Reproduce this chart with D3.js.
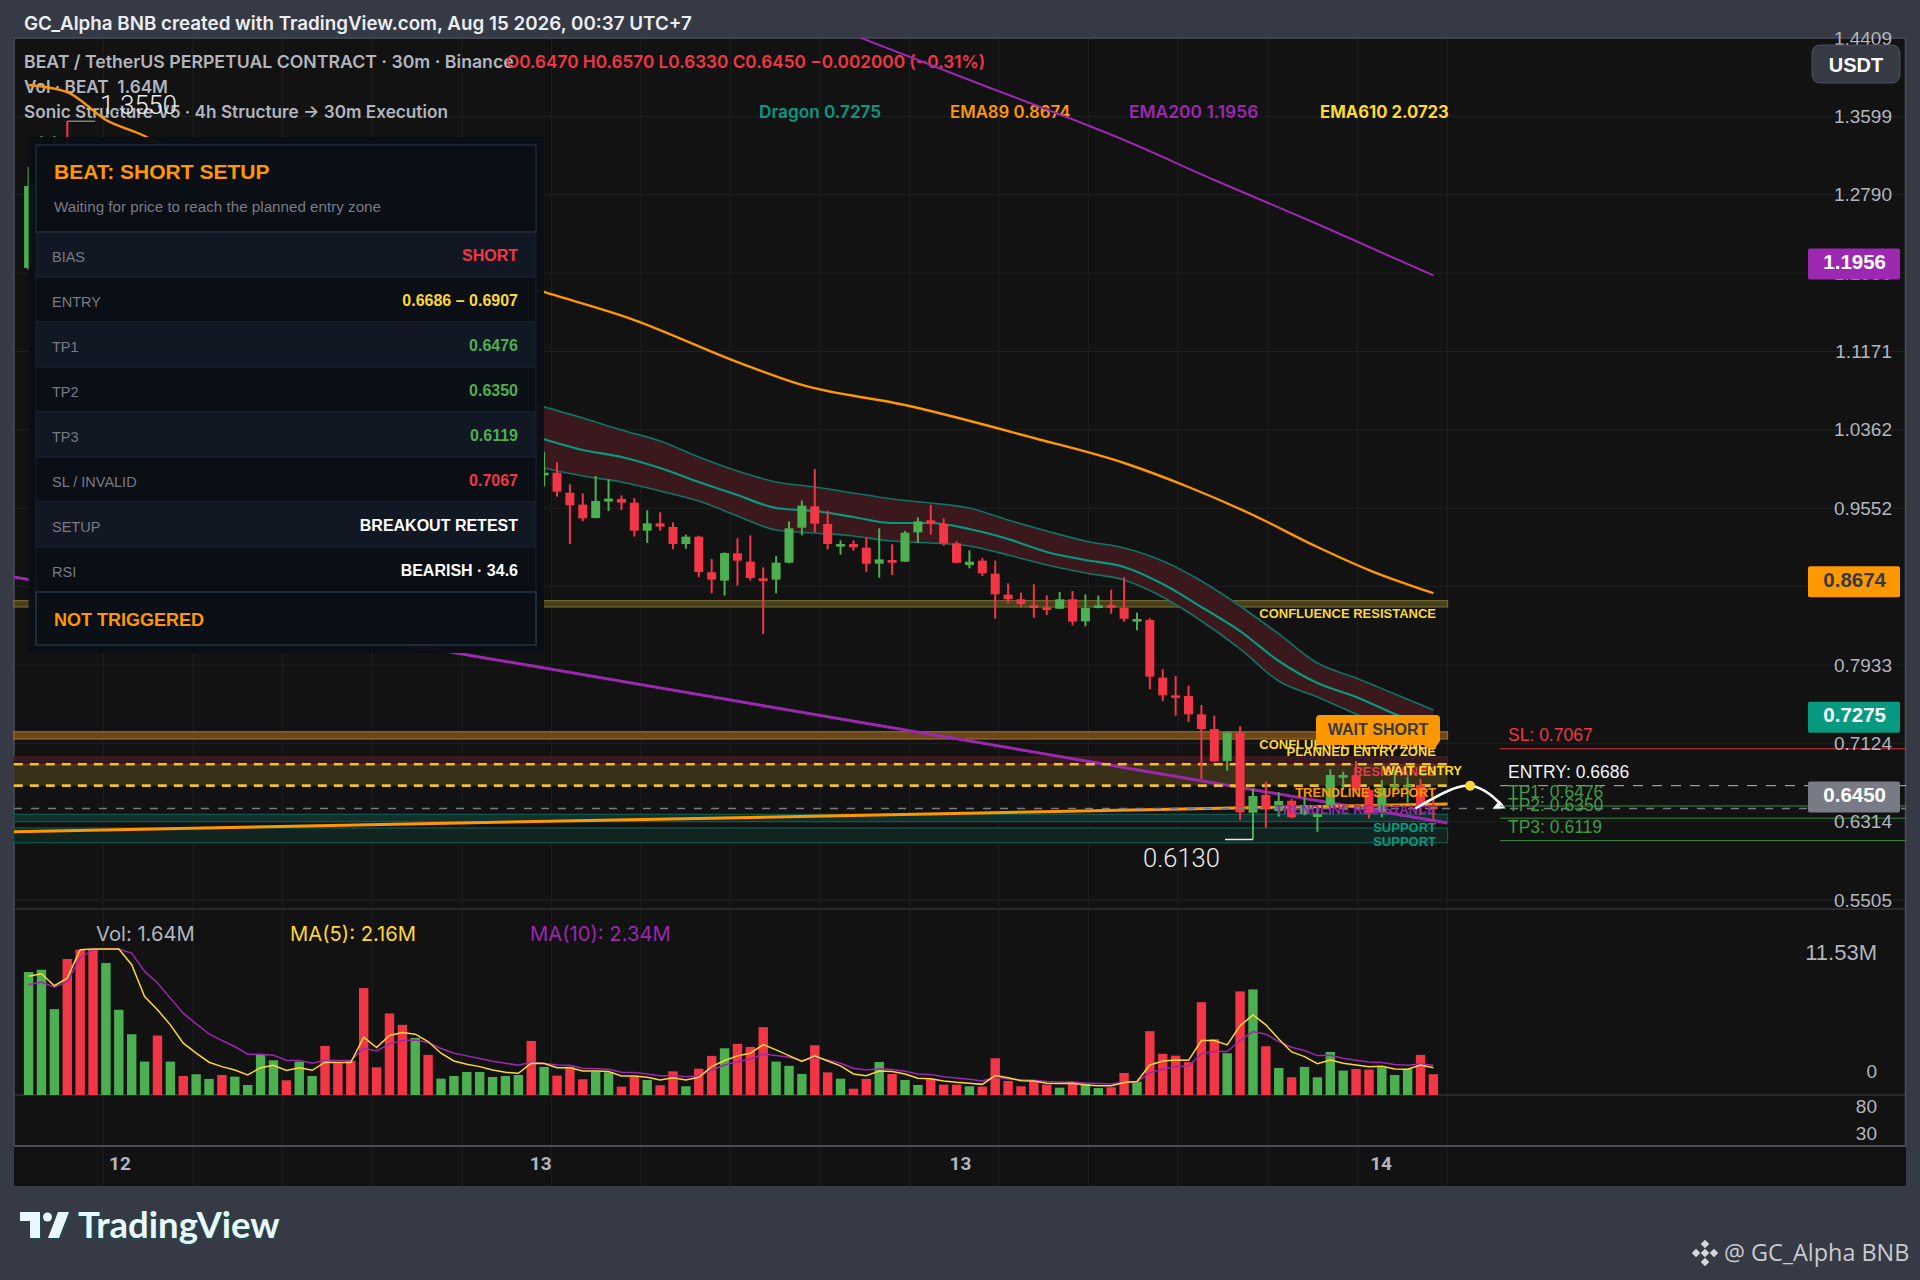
<!DOCTYPE html>
<html>
<head>
<meta charset="utf-8">
<title>BEAT chart</title>
<script src="https://cdn.jsdelivr.net/npm/d3@7"></script>
<style>
  body { margin: 0; background: #363a45; }
  svg { display: block; }
  text { font-family: Inter, Roboto, sans-serif; white-space: pre; }
  .axis text, .tag { font-family: "Liberation Sans", Arial, sans-serif; }
  .thin { font-family: Roboto, sans-serif; font-weight: 300; }
  .axis path, .axis line { display: none; }
</style>
</head>
<body>
<div id="chart"></div>
<script>
// price axis
var priceTicks = [1.4409, 1.3599, 1.2790, 1.1980, 1.1171, 1.0362, 0.9552, 0.8743, 0.7933, 0.7124, 0.6314, 0.5505];
var dayBars = [7.05, 39.7, 72.27, 104.9];
var dayLabels = ["12", "13", "13", "14"];
var gridBars = [5.81, 12.76, 19.71, 26.66, 33.61, 40.56, 47.5, 54.45, 61.4, 68.35, 75.3, 82.25, 89.2, 96.15, 103.1, 110.1];

// candles, bars 4-39 sit behind the info panel and are not readable
var candleBar = [0, 1, 2, 3, 40, 41, 42, 43, 44, 45, 46, 47, 48, 49, 50, 51, 52, 53, 54, 55, 56, 57, 58, 59, 60, 61, 62, 63, 64, 65, 66, 67, 68, 69, 70, 71, 72, 73, 74, 75, 76, 77, 78, 79, 80, 81, 82, 83, 84, 85, 86, 87, 88, 89, 90, 91, 92, 93, 94, 95, 96, 97, 98, 99, 100, 101, 102, 103, 104, 105, 106, 107, 108, 109];
var candleOpen = [1.2033, 1.22, 1.24, 1.30, .9891, .9919, .9712, .9589, .9451, .9620, .9647, .9609, .9320, .9396, .9358, .9182, .9258, .8890, .8804, .9086, .9000, .8828, .8814, .8989, .9351, .9571, .9389, .9155, .9182, .9144, .8979, .9017, .9000, .9303, .9427, .9389, .9189, .8965, .9010, .8876, .8659, .8611, .8549, .8528, .8514, .8611, .8383, .8521, .8552, .8524, .8380, .8397, .7802, .7619, .7612, .7423, .7271, .6941, .7233, .6407, .6590, .6424, .6531, .6393, .6362, .6476, .6769, .6796, .6641, .6417, .6669, .6669, .6693, .6470];
var candleHigh = [1.3076, 1.3397, 1.3397, 1.3550, 1.0136, 1.0026, .9799, .9706, .9885, .9851, .9685, .9658, .9530, .9510, .9406, .9279, .9268, .9027, .9096, .9241, .9272, .8941, .9058, .9416, .9630, .9957, .9526, .9220, .9220, .9248, .9344, .9179, .9317, .9458, .9585, .9447, .9210, .9117, .9038, .9010, .8776, .8680, .8766, .8652, .8687, .8697, .8662, .8649, .8711, .8838, .8473, .8414, .7888, .7819, .7719, .7519, .7409, .7244, .7299, .6658, .6727, .6617, .6548, .6565, .6469, .6855, .6831, .6941, .6676, .6744, .6865, .6779, .6755, .6570];
var candleLow = [1.2013, 1.20, 1.22, 1.24, .9775, .9671, .9182, .9420, .9447, .9523, .9533, .9258, .9193, .9320, .9130, .9134, .8841, .8673, .8649, .8752, .8804, .8253, .8673, .8982, .9272, .9303, .9127, .9072, .9113, .8893, .8834, .8862, .8996, .9193, .9279, .9165, .8982, .8931, .8852, .8411, .8566, .8528, .8421, .8449, .8511, .8342, .8332, .8518, .8463, .8380, .8291, .7681, .7561, .7409, .7344, .6755, .6934, .6841, .6331, .6132, .6252, .6366, .6348, .6380, .6211, .6469, .6641, .6607, .6348, .6359, .6624, .6510, .6383, .6330];
var candleClose = [1.2880, 1.30, 1.31, 1.26, .9919, .9723, .9582, .9447, .9627, .9651, .9609, .9320, .9396, .9362, .9182, .9258, .8893, .8814, .9089, .9010, .8831, .8800, .8989, .9344, .9578, .9392, .9182, .9182, .9148, .8979, .9023, .8989, .9299, .9416, .9392, .9189, .8989, .9000, .8879, .8662, .8611, .8563, .8521, .8501, .8611, .8380, .8521, .8549, .8524, .8411, .8408, .7812, .7619, .7595, .7423, .7271, .6937, .7233, .6410, .6579, .6438, .6528, .6359, .6486, .6393, .6796, .6796, .6641, .6400, .6662, .6693, .6693, .6469, .6450];

// volume in millions, one per bar
var volume = [9.71, 9.89, 6.78, 10.74, 11.48, 11.53, 10.42, 6.73, 4.80, 2.64, 4.70, 2.64, 1.50, 1.64, 1.27, 1.58, 1.45, .79, 3.17, 2.74, 1.16, 2.64, 1.50, 3.88, 2.51, 2.69, 8.44, 2.19, 6.44, 5.54, 4.51, 3.17, 1.29, 1.50, 1.82, 1.82, 1.42, 1.50, 1.58, 4.27, 2.22, 1.53, 2.24, 1.24, 1.85, 1.79, .66, 1.45, 1.19, .77, 1.87, .69, 2.08, 3.09, 3.69, 4.04, 3.80, 5.36, 2.64, 2.30, 1.66, 3.93, 1.79, 1.29, .50, 1.27, 2.61, 1.66, 1.19, .79, 1.27, .82, .82, .69, .66, 2.90, 1.11, .69, 1.11, .82, .58, 1.03, .92, .55, .61, 1.74, 1.06, 5.04, 3.25, 3.11, 2.59, 7.33, 4.41, 3.30, 8.18, 8.34, 3.85, 2.14, 1.40, 2.22, 1.40, 3.40, 1.93, 2.06, 2.01, 2.19, 1.58, 2.06, 3.17, 1.64];
var volumeUp = [1, 1, 1, 0, 0, 0, 1, 1, 1, 1, 0, 1, 0, 1, 1, 0, 1, 1, 1, 1, 0, 1, 1, 0, 0, 0, 0, 0, 0, 0, 1, 0, 1, 1, 1, 1, 1, 1, 1, 0, 1, 0, 0, 0, 1, 1, 0, 0, 1, 0, 0, 1, 0, 0, 1, 0, 0, 0, 1, 1, 1, 0, 0, 1, 0, 0, 1, 0, 1, 1, 0, 0, 0, 1, 0, 0, 0, 0, 0, 0, 1, 0, 1, 1, 0, 0, 1, 0, 0, 0, 0, 0, 0, 1, 0, 1, 0, 1, 0, 1, 1, 1, 1, 0, 0, 1, 1, 1, 0, 0];
var ma5 = [9.37, 9.58, 8.63, 9.23, 11.48, 11.53, 11.53, 11.53, 10.29, 7.78, 6.73, 5.54, 4.09, 3.30, 2.59, 2.24, 1.98, 1.58, 2.16, 2.35, 1.93, 2.16, 1.95, 2.59, 2.56, 2.56, 4.56, 3.75, 4.70, 4.93, 4.80, 4.22, 3.30, 2.69, 2.43, 2.24, 1.98, 1.79, 1.71, 2.51, 2.48, 2.16, 2.16, 1.90, 1.90, 1.85, 1.50, 1.50, 1.40, 1.19, 1.37, 1.19, 1.40, 2.24, 2.72, 3.09, 3.30, 3.98, 3.56, 3.11, 2.66, 3.09, 2.69, 2.30, 1.66, 1.53, 1.90, 1.85, 1.66, 1.32, 1.29, 1.11, 1.00, .92, .84, 1.53, 1.37, 1.13, 1.11, .92, .90, .92, .79, .74, .74, .98, 1.06, 2.37, 2.69, 2.77, 2.74, 4.30, 4.30, 3.96, 5.46, 6.33, 5.54, 4.43, 3.40, 3.03, 2.48, 2.77, 2.51, 2.37, 2.24, 2.27, 2.06, 2.03, 2.37, 2.16];
var ma10 = [8.71, 8.92, 8.52, 8.97, 10.82, 11.48, 11.53, 11.53, 11.21, 9.76, 8.84, 7.65, 6.46, 5.62, 4.83, 4.30, 3.83, 3.22, 3.22, 3.14, 2.74, 2.72, 2.51, 2.74, 2.72, 2.72, 3.69, 3.48, 4.04, 4.30, 4.35, 4.14, 3.67, 3.30, 3.09, 2.88, 2.66, 2.51, 2.35, 2.59, 2.51, 2.37, 2.35, 2.11, 2.08, 2.03, 1.79, 1.77, 1.66, 1.53, 1.53, 1.45, 1.50, 1.98, 2.37, 2.64, 2.82, 3.22, 3.11, 2.98, 2.72, 2.96, 2.77, 2.51, 2.11, 1.98, 2.08, 2.01, 1.87, 1.66, 1.61, 1.45, 1.35, 1.24, 1.11, 1.40, 1.27, 1.21, 1.16, 1.06, 1.03, 1.03, .95, .90, .87, 1.00, 1.03, 1.77, 2.03, 2.24, 2.30, 3.25, 3.43, 3.43, 4.30, 5.01, 4.80, 4.22, 3.77, 3.51, 3.11, 3.14, 2.90, 2.74, 2.61, 2.56, 2.40, 2.35, 2.45, 2.34];

// moving average ribbon and long EMAs
var dragonBar = [39, 43, 46, 49, 52, 55, 58, 61, 64, 67, 70, 73, 76, 79, 82, 85, 88, 91, 94, 97, 100, 103, 106, 109];
var dragonUpper = [1.0635, 1.0484, 1.0360, 1.0246, 1.0081, .9936, .9823, .9771, .9709, .9647, .9606, .9554, .9430, .9317, .9213, .9141, .9007, .8800, .8542, .8253, .7953, .7798, .7633, .7468];
var dragonMid = [1.0305, 1.0153, 1.0081, .9967, .9823, .9688, .9554, .9523, .9461, .9399, .9399, .9337, .9234, .9100, .9017, .8945, .8769, .8531, .8283, .7974, .7746, .7602, .7426, .7275];
var dragonLower = [.9995, .9885, .9823, .9730, .9626, .9472, .9327, .9296, .9265, .9213, .9193, .9162, .9069, .8965, .8883, .8811, .8635, .8387, .8098, .7767, .7602, .7426, .7261, .7158];
var ema89Bar = [0, 3, 6, 9, 10, 39, 47, 55, 60, 68, 78, 85, 90, 95, 100, 104, 109];
var ema89 = [1.3924, 1.3851, 1.3562, 1.3397, 1.3325, 1.1827, 1.1496, 1.1062, 1.0825, 1.0618, 1.0277, 1.0019, .9771, .9482, .9151, .8913, .8674];
var ema200Bar = [63, 73, 85, 92, 100, 109];
var ema200 = [1.4492, 1.3975, 1.3355, 1.2942, 1.2488, 1.1956];
var trendBar = [-1.15, 110.1];
var trendResistance = [.8841, .6300];
var trendSupport = [.6211, .6497];

// horizontal zones
var zoneTop = [.8597, .7243, .6982, .6390, .6249];
var zoneBottom = [.8532, .7168, .6907, .6314, .6097];
var zoneFills = ["#47401f", "#6b481b", "#38191d", "#12302c", "#12241f"];
var zoneStrokes = ["#75682a", "#99692a", "#4a1f24", "#0f5a4f", "#0f5a4f"];
var entryHigh = .6907, entryLow = .6686, lastPrice = .6450;

// plan levels to the right of the last bar
var levelPrices = [.7067, .6686, .6476, .6350, .6119];
var levelTexts = ["SL: 0.7067", "ENTRY: 0.6686", "TP1: 0.6476", "TP2: 0.6350", "TP3: 0.6119"];
var levelColors = ["#f23645", "#f0f3fa", "#3f9a43", "#3f9a43", "#3f9a43"];

// price tags on the axis
var tagPrices = [1.1956, .8674, .7275, .6450];
var tagFills = ["#9c27b0", "#ff9800", "#089981", "#787b86"];
var tagTextFills = ["#fff", "#363a45", "#fff", "#fff"];

// projected path
var pathBar = [107.6, 109.9, 111.85, 113.4, 114.4];
var pathPrice = [.6450, .6618, .6686, .6595, .6470];

// info panel
var rowLabels = ["BIAS", "ENTRY", "TP1", "TP2", "TP3", "SL / INVALID", "SETUP", "RSI"];
var rowValues = ["SHORT", "0.6686 – 0.6907", "0.6476", "0.6350", "0.6119", "0.7067", "BREAKOUT RETEST", "BEARISH · 34.6"];
var rowColors = ["#f23645", "#fdd835", "#4caf50", "#4caf50", "#4caf50", "#f23645", "#fff", "#fff"];

var red = "#f23645", green = "#4caf50", teal = "#089981", orange = "#ff9800", purple = "#9c27b0", yellow = "#fdd835";

var svg = d3.select("#chart").append("svg")
    .attr("width", 1920)
    .attr("height", 1280);

var x = d3.scaleLinear().domain([0, 109]).range([28.6, 1433.4]);
var y = d3.scaleLinear().domain([0.5505, 1.4409]).range([900, 38]);
var yVol = d3.scaleLinear().domain([0, 11.53]).range([1095, 949]);

function hline(g, x1, x2, yy, color, width, dash) {
  return g.append("line")
      .attr("x1", x1).attr("x2", x2).attr("y1", yy).attr("y2", yy)
      .attr("stroke", color).attr("stroke-width", width)
      .attr("stroke-dasharray", dash || null);
}

function label(g, px, py, str, color, size, weight, anchor) {
  return g.append("text")
      .attr("x", px).attr("y", py)
      .attr("dy", "0.35em")
      .attr("fill", color)
      .attr("font-size", size)
      .attr("font-weight", weight || 400)
      .attr("text-anchor", anchor || "start")
      .text(str);
}

// background
svg.append("rect").attr("x", 14).attr("y", 38).attr("width", 1892).attr("height", 1148).attr("fill", "#121213");

var grid = svg.append("g");
priceTicks.forEach(function(d) { hline(grid, 14, 1906, y(d), "#212123", 1); });
gridBars.forEach(function(d) {
  grid.append("line").attr("x1", x(d)).attr("x2", x(d)).attr("y1", 38).attr("y2", 1186)
      .attr("stroke", "#1f1f21").attr("stroke-width", 1);
});
hline(grid, 14, 1906, 909, "#2a2a2c", 2);
hline(grid, 14, 1906, 1095, "#2a2a2c", 2);
hline(grid, 14, 1906, 1146, "#4a4d55", 2);
hline(grid, 14, 1906, 38, "#4a4e58", 1.5);
grid.append("line").attr("x1", 14).attr("x2", 14).attr("y1", 38).attr("y2", 1146).attr("stroke", "#4a4e58").attr("stroke-width", 1.5);
grid.append("line").attr("x1", 1905.5).attr("x2", 1905.5).attr("y1", 38).attr("y2", 1146).attr("stroke", "#4a4e58").attr("stroke-width", 1.5);

// top text sits under the marks
var topText = svg.append("g");
label(topText, 24, 23, "GC_Alpha BNB created with TradingView.com, Aug 15 2026, 00:37 UTC+7", "#eceef2", 18.8, 600);
label(topText, 24, 62, "BEAT / TetherUS PERPETUAL CONTRACT · 30m · Binance", "#b2b5be", 17.7, 600);
label(topText, 506, 62, "O0.6470 H0.6570 L0.6330 C0.6450 −0.002000 (−0.31%)", red, 17.2, 600);
label(topText, 24, 87, "Vol · BEAT  1.64M", "#b2b5be", 17.2, 600);
label(topText, 24, 112, "Sonic Structure V5 · 4h Structure → 30m Execution", "#b2b5be", 17.2, 600);
label(topText, 759, 112, "Dragon 0.7275", teal, 17.2, 600);
label(topText, 950, 112, "EMA89 0.8674", orange, 16.8, 600);
label(topText, 1129, 112, "EMA200 1.1956", purple, 17.4, 600);
label(topText, 1320, 112, "EMA610 2.0723", yellow, 16.7, 700);

var main = svg.append("g");
var lineFor = function(bars) {
  return d3.line().x(function(d, i) { return x(bars[i]); }).y(function(d) { return y(d); });
};

// zones
main.selectAll("rect.zone")
    .data(zoneTop)
  .enter().append("rect")
    .attr("class", "zone")
    .attr("x", x(-1.15))
    .attr("width", x(110.1) - x(-1.15))
    .attr("y", function(d) { return y(d); })
    .attr("height", function(d, i) { return y(zoneBottom[i]) - y(d); })
    .attr("fill", function(d, i) { return zoneFills[i]; })
    .attr("stroke", function(d, i) { return zoneStrokes[i]; })
    .attr("stroke-width", 1.2);
main.append("rect")
    .attr("x", x(-1.15)).attr("width", x(110.1) - x(-1.15))
    .attr("y", y(entryHigh)).attr("height", y(entryLow) - y(entryHigh))
    .attr("fill", "#3a2f19");
hline(main, x(-1.15), x(110.1), y(entryHigh) + 0.5, "#8a2a30", 1);

// dragon ribbon
var ribbon = d3.area()
    .x(function(d, i) { return x(dragonBar[i]); })
    .y0(function(d) { return y(d); })
    .y1(function(d, i) { return y(dragonLower[i]); })
    .curve(d3.curveMonotoneX);
main.append("path").datum(dragonUpper).attr("d", ribbon).attr("fill", "#3a181c");
main.append("path").datum(dragonUpper).attr("d", lineFor(dragonBar).curve(d3.curveMonotoneX)).attr("fill", "none").attr("stroke", "#0e7467").attr("stroke-width", 1.6);
main.append("path").datum(dragonLower).attr("d", lineFor(dragonBar).curve(d3.curveMonotoneX)).attr("fill", "none").attr("stroke", "#0e7467").attr("stroke-width", 1.6);
main.append("path").datum(dragonMid).attr("d", lineFor(dragonBar).curve(d3.curveMonotoneX)).attr("fill", "none").attr("stroke", teal).attr("stroke-width", 2.2);

// long lines, clipped to the price pane
svg.append("clipPath").attr("id", "pricePane").append("rect").attr("x", 14).attr("y", 38).attr("width", 1892).attr("height", 871);
var longLines = main.append("g").attr("clip-path", "url(#pricePane)");
longLines.append("path").datum(ema89).attr("d", lineFor(ema89Bar).curve(d3.curveMonotoneX)).attr("fill", "none").attr("stroke", orange).attr("stroke-width", 2.4);
longLines.append("path").datum(ema200).attr("d", lineFor(ema200Bar).curve(d3.curveMonotoneX)).attr("fill", "none").attr("stroke", purple).attr("stroke-width", 2);
longLines.append("path").datum(trendResistance).attr("d", lineFor(trendBar)).attr("fill", "none").attr("stroke", purple).attr("stroke-width", 3);
longLines.append("path").datum(trendSupport).attr("d", lineFor(trendBar)).attr("fill", "none").attr("stroke", orange).attr("stroke-width", 3);

// entry zone edges
hline(main, x(-1.15), x(110.1), y(entryHigh), "#e8c32e", 2.6, "9 7");
hline(main, x(-1.15), x(110.1), y(entryLow), "#e8c32e", 2.6, "9 7");

// candles
var candle = main.selectAll("g.candle")
    .data(candleBar)
  .enter().append("g")
    .attr("class", "candle")
    .attr("transform", function(d) { return "translate(" + x(d) + ",0)"; });
candle.append("line")
    .attr("y1", function(d, i) { return y(candleHigh[i]); })
    .attr("y2", function(d, i) { return y(candleLow[i]); })
    .attr("stroke", function(d, i) { return candleClose[i] >= candleOpen[i] ? green : red; })
    .attr("stroke-width", 2);
candle.append("rect")
    .attr("x", -4.5)
    .attr("width", 9)
    .attr("y", function(d, i) { return y(Math.max(candleOpen[i], candleClose[i])); })
    .attr("height", function(d, i) { return Math.max(2.5, Math.abs(y(candleOpen[i]) - y(candleClose[i]))); })
    .attr("fill", function(d, i) { return candleClose[i] >= candleOpen[i] ? green : red; });

// high and low callouts
hline(main, x(3), x(3) + 28, y(1.3550), "#b2b5be", 1);
label(main, 100, 105, "1.3550", "#ececec", 25.5).attr("class", "thin");
hline(main, x(95) - 28, x(95), y(.6130), "#e6e6e6", 1.5);
label(main, 1143, 858, "0.6130", "#ececec", 25.5).attr("class", "thin");

// last price line
hline(main, 14, 1906, y(lastPrice), "#787b86", 1.5, "8 9");

// zone labels
var tagRight = 1436;
function zoneLabel(px, py, str, color) {
  label(main, px, py, str, color, 13, 700, "end").attr("class", "tag");
}
zoneLabel(tagRight, 613, "CONFLUENCE RESISTANCE", "#fdd835");
zoneLabel(tagRight, 744, "CONFLUENCE RESISTANCE", "#fdd835");
zoneLabel(tagRight, 751, "PLANNED ENTRY ZONE", "#fdd835");
zoneLabel(tagRight, 771, "RESISTANCE", red);
zoneLabel(1462, 770, "WAIT ENTRY", "#fdd835");
zoneLabel(tagRight, 792, "TRENDLINE SUPPORT", orange);
zoneLabel(tagRight, 809, "TRENDLINE RESISTANCE", purple);
zoneLabel(tagRight, 827, "SUPPORT", teal);
zoneLabel(tagRight, 841, "SUPPORT", teal);

// wait short flag
main.append("path")
    .attr("d", "M1320,715h116a4,4 0 0 1 4,4v22l-7,10l-10,-6h-103a4,4 0 0 1 -4,-4v-22a4,4 0 0 1 4,-4z")
    .attr("fill", orange);
label(main, 1378, 729.5, "WAIT SHORT", "#363a45", 16, 700, "middle").attr("class", "tag");

// projected path
main.append("path")
    .datum(pathPrice)
    .attr("d", lineFor(pathBar).curve(d3.curveNatural))
    .attr("fill", "none").attr("stroke", "#fff").attr("stroke-width", 2.5);
main.append("path")
    .attr("d", "M" + x(114.6) + "," + y(.6450) + "l-13,0l7,-8z")
    .attr("fill", "#fff");
main.append("circle")
    .attr("cx", x(pathBar[2])).attr("cy", y(pathPrice[2])).attr("r", 5)
    .attr("fill", yellow);

// plan levels
var levels = svg.append("g").selectAll("g")
    .data(levelPrices)
  .enter().append("g");
levels.append("line")
    .attr("x1", 1500).attr("x2", 1906)
    .attr("y1", function(d) { return y(d); })
    .attr("y2", function(d) { return y(d); })
    .attr("stroke", function(d, i) { return levelColors[i]; })
    .attr("stroke-opacity", function(d, i) { return i == 1 ? 0.75 : 0.9; })
    .attr("stroke-width", 1)
    .attr("stroke-dasharray", function(d, i) { return i == 1 ? "10 9" : null; });
levels.append("text")
    .attr("class", "tag")
    .attr("x", 1508)
    .attr("y", function(d) { return y(d) - 7.5; })
    .attr("fill", function(d, i) { return levelColors[i]; })
    .attr("font-size", 17.5)
    .text(function(d, i) { return levelTexts[i]; });

// price axis
svg.append("g")
    .attr("class", "axis")
    .attr("transform", "translate(1892,0)")
    .call(d3.axisRight(y).tickValues(priceTicks).tickFormat(d3.format(".4f")).tickSize(0))
  .selectAll("text")
    .attr("x", 0)
    .attr("text-anchor", "end")
    .attr("fill", "#b2b5be")
    .attr("font-size", 19);

// price tags
var tags = svg.append("g").selectAll("g")
    .data(tagPrices)
  .enter().append("g")
    .attr("transform", function(d) { return "translate(0," + (y(d) - 11.5) + ")"; });
tags.append("rect")
    .attr("x", 1808).attr("y", -15.5).attr("width", 92).attr("height", 31).attr("rx", 2)
    .attr("fill", function(d, i) { return tagFills[i]; });
tags.append("text")
    .attr("class", "tag")
    .attr("x", 1886).attr("dy", "0.35em").attr("y", -2)
    .attr("text-anchor", "end")
    .attr("font-size", 20.5)
    .attr("font-weight", 700)
    .attr("fill", function(d, i) { return tagTextFills[i]; })
    .text(function(d) { return d.toFixed(4); });

// currency button
svg.append("rect").attr("x", 1812).attr("y", 45).attr("width", 88).attr("height", 38).attr("rx", 8)
    .attr("fill", "#363a45").attr("stroke", "#50535e");
label(svg, 1856, 64.5, "USDT", "#fff", 20, 700, "middle").attr("class", "tag");

// volume pane
var vol = svg.append("g");
vol.selectAll("rect")
    .data(volume)
  .enter().append("rect")
    .attr("x", function(d, i) { return x(i) - 4.7; })
    .attr("width", 9.4)
    .attr("y", function(d) { return yVol(d); })
    .attr("height", function(d) { return yVol(0) - yVol(d); })
    .attr("fill", function(d, i) { return volumeUp[i] ? green : red; });
var volLine = d3.line().x(function(d, i) { return x(i); }).y(function(d) { return yVol(d); });
vol.append("path").datum(ma10).attr("d", volLine).attr("fill", "none").attr("stroke", purple).attr("stroke-width", 1.5);
vol.append("path").datum(ma5).attr("d", volLine).attr("fill", "none").attr("stroke", yellow).attr("stroke-width", 1.5);
label(vol, 96, 934, "Vol: 1.64M", "#b2b5be", 20.2);
label(vol, 290, 934, "MA(5): 2.16M", yellow, 20.2);
label(vol, 530, 934, "MA(10): 2.34M", purple, 20.2);
label(vol, 1877, 952, "11.53M", "#b2b5be", 22, 400, "end").attr("class", "tag");
label(vol, 1877, 1071, "0", "#b2b5be", 19, 400, "end").attr("class", "tag");
label(vol, 1877, 1106, "80", "#b2b5be", 19, 400, "end").attr("class", "tag");
label(vol, 1877, 1133, "30", "#b2b5be", 19, 400, "end").attr("class", "tag");

// time axis
svg.append("g")
    .attr("class", "axis")
    .attr("transform", "translate(0,1146)")
    .call(d3.axisBottom(x).tickValues(dayBars).tickFormat(function(d, i) { return dayLabels[i]; }).tickSize(0))
  .selectAll("text")
    .attr("y", 17)
    .attr("dy", "0.35em")
    .style("font-family", "Roboto")
    .attr("fill", "#b2b5be")
    .attr("font-size", 19)
    .attr("font-weight", 700);

// info panel
var panel = svg.append("g");
panel.append("rect").attr("x", 28.6).attr("y", 137).attr("width", 515.4).attr("height", 516).attr("fill", "#0a0e14").attr("opacity", 0.95);
panel.append("rect").attr("x", 36).attr("y", 145).attr("width", 500).attr("height", 500).attr("fill", "#0a0e15");
panel.selectAll("rect.row")
    .data(rowLabels)
  .enter().append("rect")
    .attr("class", "row")
    .attr("x", 36).attr("width", 500)
    .attr("y", function(d, i) { return 232 + i * 45; })
    .attr("height", 45)
    .attr("fill", function(d, i) { return i % 2 ? "#0a0e15" : "#111723"; })
    .attr("stroke", "#1a2230");
panel.append("rect").attr("x", 36).attr("y", 145).attr("width", 500).attr("height", 87).attr("fill", "none").attr("stroke", "#1f2a3a").attr("stroke-width", 1.5);
panel.append("rect").attr("x", 36).attr("y", 592).attr("width", 500).attr("height", 53).attr("fill", "#0a0e15").attr("stroke", "#1f2a3a").attr("stroke-width", 2);
label(panel, 54, 172, "BEAT: SHORT SETUP", orange, 21, 700).attr("class", "tag");
label(panel, 54, 207, "Waiting for price to reach the planned entry zone", "#787b86", 15.2, 400).attr("class", "tag");
label(panel, 54, 620, "NOT TRIGGERED", orange, 18, 700).attr("class", "tag");
rowLabels.forEach(function(d, i) {
  label(panel, 52, 232 + i * 45 + 24.5, d, "#787b86", 14.5, 400).attr("class", "tag");
  label(panel, 518, 232 + i * 45 + 23, rowValues[i], rowColors[i], 16, 700, "end").attr("class", "tag");
});

// watermarks
var logo = svg.append("g");
logo.append("path")
    .attr("d", "M20,1212h20v26h-10v-17h-10z M69,1212h-11l-10,26h11z")
    .attr("fill", "#1e4a50").attr("transform", "translate(1.5,1.5)");
logo.append("circle").attr("cx", 47.5).attr("cy", 1217).attr("r", 4.5).attr("fill", "#e8f8fc");
logo.append("path")
    .attr("d", "M20,1212h20v26h-10v-17h-10z M69,1212h-11l-10,26h11z")
    .attr("fill", "#e8f8fc");
logo.append("text").attr("x", 79.5).attr("y", 1239.5).attr("font-size", 36.5).attr("font-weight", 700).attr("fill", "#1e4a50").style("font-family", "Lato").text("TradingView");
logo.append("text").attr("x", 78).attr("y", 1238).attr("font-size", 36.5).attr("font-weight", 700).attr("fill", "#e8f8fc").style("font-family", "Lato").text("TradingView");
var mark = svg.append("g").attr("transform", "translate(1705,1253)").attr("fill", "#d6d8dd");
[[0, -9], [-9, 0], [9, 0], [0, 9], [0, 0]].forEach(function(p, i) {
  mark.append("rect").attr("x", p[0] - 3).attr("y", p[1] - 3).attr("width", 6).attr("height", 6)
      .attr("transform", "rotate(45 " + p[0] + " " + p[1] + ")");
});
label(svg, 1724, 1253, "@ GC_Alpha BNB", "#c8cad0", 23.4).style("font-family", "Open Sans");
</script>
</body>
</html>
